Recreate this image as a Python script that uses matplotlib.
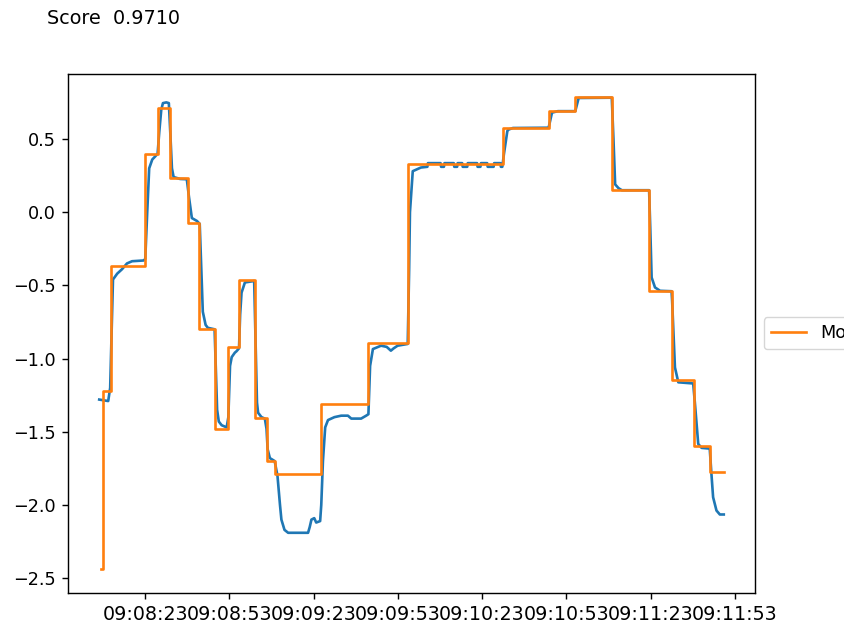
import matplotlib
matplotlib.use("Agg")
import matplotlib.pyplot as plt
import matplotlib.dates as mdates
import pandas as pd
import numpy as np

# ---- data (seconds relative to 09:08:23) ----
base_time = "2024-01-01 09:08:23"

blue_t = [-16.4, -13.2, -12.5, -11.5, -10.0, -8.3, -6.5, -4.7, -0.6,
          0.0, 0.7, 1.4, 2.5, 3.5, 4.4, 5.0, 5.7, 6.3, 7.5, 8.4, 8.9, 9.5, 10.1,
          12.4, 14.8, 15.6, 16.6, 18.4, 19.4, 20.0, 20.5, 21.5, 22.3, 24.7,
          25.2, 25.6, 26.2, 27.2, 29.0, 29.6, 30.2, 30.8, 31.9, 32.5, 33.4,
          33.8, 34.3, 35.5, 38.8, 39.3, 39.8, 40.2, 41.4, 42.6, 43.2, 43.6,
          44.4, 46.1, 47.1, 48.0, 48.5, 49.6, 50.9, 58.0, 58.6, 59.2, 60.2,
          60.9, 62.3, 62.7, 63.3, 64.1, 65.1, 67.4, 69.8, 72.2, 73.4, 76.9,
          78.7, 79.5, 80.1, 81.1, 84.0, 86.0, 87.5, 88.5, 89.9, 93.5, 94.0,
          94.3, 95.3, 98.2,
          100.5, 100.7, 105.2, 105.4, 106.4, 106.6, 109.9, 110.1,
          111.1, 111.3, 112.9, 113.1, 114.7, 114.9, 118.2, 118.4,
          119.4, 119.6, 121.8, 122.0, 124.1, 124.3, 126.5, 126.7,
          127.2, 127.8, 129.0, 129.5, 131.0, 143.7, 144.9, 147.0, 153.2,
          154.4, 166.2, 166.8, 167.4, 168.6, 169.8, 179.5, 179.9, 180.4,
          181.6, 183.4, 187.5, 187.7, 188.7, 189.9, 195.2, 195.8, 197.0,
          198.2, 201.1, 201.7, 202.3, 203.5, 204.7, 206.1]
blue_v = [-1.28, -1.29, -1.20, -0.46, -0.42, -0.39, -0.35, -0.335, -0.33,
          -0.32, 0.00, 0.30, 0.36, 0.38, 0.40, 0.55, 0.70, 0.745, 0.75, 0.745, 0.55, 0.30, 0.24,
          0.227, 0.225, 0.10, -0.04, -0.06, -0.08, -0.40, -0.68, -0.77, -0.79, -0.80,
          -1.10, -1.35, -1.43, -1.455, -1.47, -1.40, -1.05, -0.99, -0.96, -0.95, -0.93,
          -0.70, -0.55, -0.48, -0.47, -0.90, -1.30, -1.37, -1.40, -1.41, -1.48, -1.62,
          -1.68, -1.70, -1.80, -2.00, -2.10, -2.17, -2.19, -2.19, -2.15, -2.10, -2.09,
          -2.12, -2.11, -2.00, -1.70, -1.47, -1.42, -1.40, -1.39, -1.39, -1.41, -1.41,
          -1.39, -1.38, -1.05, -0.935, -0.912, -0.92, -0.946, -0.93, -0.912, -0.90, -0.40,
          0.00, 0.28, 0.305,
          0.31, 0.335, 0.335, 0.31, 0.31, 0.335, 0.335, 0.31,
          0.31, 0.335, 0.335, 0.31, 0.31, 0.335, 0.335, 0.31,
          0.31, 0.335, 0.335, 0.31, 0.31, 0.335, 0.335, 0.31,
          0.31, 0.40, 0.555, 0.565, 0.575, 0.577, 0.68, 0.69, 0.69,
          0.78, 0.782, 0.50, 0.19, 0.164, 0.150, 0.15, -0.10, -0.446,
          -0.514, -0.537, -0.54, -0.605, -1.06, -1.162, -1.17, -1.30, -1.583,
          -1.61, -1.615, -1.787, -1.947, -2.038, -2.065, -2.065]

orange_t = [-15.7, -15.0, -12.1, 0.0, 4.4, 8.7, 15.2, 19.3, 24.8, 29.6, 33.4,
            39.0, 43.4, 46.1, 62.7, 79.5, 93.5, 127.5, 143.7, 153.2, 166.2,
            179.5, 187.8, 195.5, 201.3, 206.1]
orange_v = [-2.44, -1.22, -0.366, 0.40, 0.713, 0.232, -0.075, -0.798, -1.48,
            -0.919, -0.464, -1.408, -1.697, -1.787, -1.31, -0.896, 0.327, 0.577,
            0.691, 0.786, 0.150, -0.537, -1.144, -1.599, -1.776, -1.776]

title_text = "Score  0.9710"
legend_label = "Model"

# ---- figure ----
scale = 1.27
plt.rcParams["font.size"] = 10 * scale
plt.rcParams["axes.linewidth"] = 0.8 * scale
for ax_ in ("xtick", "ytick"):
    plt.rcParams[f"{ax_}.major.size"] = 3.5 * scale
    plt.rcParams[f"{ax_}.major.width"] = 0.8 * scale
    plt.rcParams[f"{ax_}.major.pad"] = 3.5 * scale

t0 = pd.Timestamp(base_time)
bt = t0 + pd.to_timedelta(blue_t, unit="s")
ot = t0 + pd.to_timedelta(orange_t, unit="s")

fig = plt.figure(figsize=(8.44, 6.28), dpi=100)
ax = fig.add_axes([68 / 844, 1 - 593 / 628, (755 - 68) / 844, (593 - 73.5) / 628])

ax.plot(bt, blue_v, color="#1f77b4", lw=1.5 * scale)
ax.plot(ot, orange_v, color="#ff7f0e", lw=1.5 * scale, drawstyle="steps-post",
        label=legend_label)

ax.xaxis.set_major_locator(mdates.SecondLocator(bysecond=[23, 53]))
ax.xaxis.set_major_formatter(mdates.DateFormatter("%H:%M:%S"))
ax.tick_params(axis="x", labelsize=13.7)
ax.set_yticks([-2.5, -2.0, -1.5, -1.0, -0.5, 0.0, 0.5])

ax.legend(loc="center left", bbox_to_anchor=(1, 0.5))
fig.text(47 / 844, 1 - 18 / 628, title_text, va="center", ha="left",
         fontsize=13.8)

fig.savefig("out.png", dpi=100)
